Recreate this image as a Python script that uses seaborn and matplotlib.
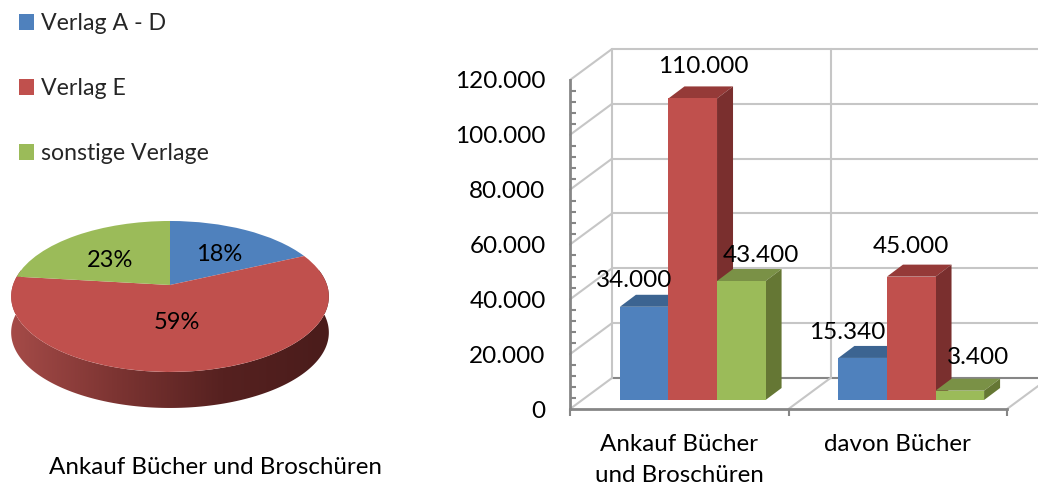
import numpy as np
import pandas as pd
import seaborn as sns
import matplotlib.pyplot as plt
from matplotlib.colors import LinearSegmentedColormap
from matplotlib.patches import Patch, Polygon
from matplotlib.path import Path

W, H = 1038, 487

categories = ["Ankauf Bücher\nund Broschüren", "davon Bücher"]
publishers = ["Verlag A - D", "Verlag E", "sonstige Verlage"]
verlag_a = [34000, 15340]
verlag_e = [110000, 45000]
sonstige = [43400, 3400]
value_labels = [["34.000", "15.340"], ["110.000", "45.000"], ["43.400", "3.400"]]
y_ticks = [0, 20000, 40000, 60000, 80000, 100000, 120000]
y_tick_labels = ["0", "20.000", "40.000", "60.000", "80.000", "100.000", "120.000"]
pie_title = "Ankauf Bücher und Broschüren"

colors = ["#4F81BD", "#C0504D", "#9BBB59"]
top_colors = ["#3C6491", "#953A38", "#7A9146"]
side_colors = ["#3A5F8A", "#7A2F2E", "#657734"]

sns.set_theme(style="white")
plt.rcParams["font.family"] = ["Lato", "DejaVu Sans"]

fig = plt.figure(figsize=(W / 100, H / 100), dpi=100)

# frame of the fake 3d chart
x0, x1, y_top, y_bot = 570, 1007, 80, 409
frame = fig.add_axes([x0 / W, (H - y_bot) / H, (x1 - x0) / W, (y_bot - y_top) / H], zorder=1)
frame.patch.set_alpha(0)
frame.set_xlim(0, 2)
frame.set_ylim(0, 120000)
px_x = 2 / (x1 - x0)
px_y = 120000 / (y_bot - y_top)
back_x, back_y = 42 * px_x, 31 * px_y

for v in y_ticks:
    col = "#868686" if v == 0 else "#C6C6C6"
    frame.plot([back_x, 2 + back_x], [v + back_y] * 2, color=col, lw=1.5, clip_on=False, zorder=1)
    if v > 0:
        frame.plot([0, back_x], [v, v + back_y], color="#C6C6C6", lw=1.5, clip_on=False, zorder=1)
for c in [0, 1, 2]:
    frame.plot([c, c + back_x], [0, back_y], color="#C6C6C6", lw=1.5, clip_on=False, zorder=1)
    frame.plot([c + back_x] * 2, [back_y, 120000 + back_y], color="#C6C6C6", lw=1.5, clip_on=False, zorder=1)

sns.despine(ax=frame)
for s in ["left", "bottom"]:
    frame.spines[s].set_color("#868686")
    frame.spines[s].set_linewidth(2)
frame.set_yticks(y_ticks, y_tick_labels, fontsize=17.5)
frame.set_yticks(np.arange(0, 120001, 4000), minor=True)
frame.set_xticks([0, 1, 2], ["", "", ""])
frame.set_xticks([0.5, 1.5], categories, minor=True, fontsize=17.4, linespacing=1.56)
frame.tick_params(axis="y", which="major", direction="inout", length=9.5, width=1.5, color="#868686", pad=12.8, labelcolor="black")
frame.tick_params(axis="y", which="minor", direction="in", length=4, width=1.5, color="#868686", left=True)
frame.tick_params(axis="x", which="major", direction="out", length=5, width=1.5, color="#868686", bottom=True)
frame.tick_params(axis="x", which="minor", length=0, pad=18, labelcolor="black")

# bars stand a little behind the front of the frame
shift_x, shift_y = 13.5, 9
bars = fig.add_axes([(x0 + shift_x) / W, (H - y_bot + shift_y) / H, (x1 - x0) / W, (y_bot - y_top) / H], zorder=2)
bars.patch.set_alpha(0)

df = pd.DataFrame({
    "kategorie": categories * 3,
    "verlag": [p for p in publishers for _ in categories],
    "wert": verlag_a + verlag_e + sonstige,
})
sns.barplot(data=df, x="kategorie", y="wert", hue="verlag", order=categories, hue_order=publishers,
            palette=colors, saturation=1, width=2 / 3, gap=0, legend=False, ax=bars)
bars.set_xlim(-0.5, 1.5)
bars.set_ylim(0, 120000)
bars.set_axis_off()

depth_x, depth_y = 16 * px_x, 12 * px_y
label_offsets = [[(-10, 26), (-15, 25)], [(11, 32), (0, 30)], [(20, 26), (18.5, 33)]]
for h, cont in enumerate(bars.containers):
    for c, bar in enumerate(cont):
        xl, w, t = bar.get_x(), bar.get_width(), bar.get_height()
        z = 3 + h
        bar.set_zorder(z + 0.2)
        bar.set_linewidth(0)
        bars.add_patch(Polygon([(xl, t), (xl + depth_x, t + depth_y), (xl + w + depth_x, t + depth_y), (xl + w, t)],
                               facecolor=top_colors[h], lw=0, zorder=z, clip_on=False))
        bars.add_patch(Polygon([(xl + w, 0), (xl + w + depth_x, depth_y), (xl + w + depth_x, t + depth_y), (xl + w, t)],
                               facecolor=side_colors[h], lw=0, zorder=z, clip_on=False))
        off = label_offsets[h][c]
        bars.annotate(value_labels[h][c], (xl + w / 2, t), xytext=(off[0] * 0.72, off[1] * 0.72),
                      textcoords="offset points", ha="center", va="center", fontsize=17.5, color="black",
                      zorder=20, annotation_clip=False)

# pie in pixel units around its centre point
cx, cy = 170, 285
pie_ax = fig.add_axes([0, 0, 1, 1], zorder=3)
pie_ax.patch.set_alpha(0)
k, a, b = 0.152, 73.75, 157


def warp(uv):
    # tilted disc: the far half looks smaller than the near half
    uv = np.asarray(uv, dtype=float)
    d = 1 + k * uv[:, 1]
    return np.column_stack([b * uv[:, 0] / d, a * uv[:, 1] / d])


totals = [verlag_a[0], verlag_e[0], sonstige[0]]
wedges, _, pct_texts = pie_ax.pie(totals, colors=colors, startangle=90, counterclock=False,
                                  autopct="%.0f%%", pctdistance=0.6,
                                  wedgeprops={"linewidth": 0},
                                  textprops={"fontsize": 17, "color": "black"})
for w in wedges:
    p = w.get_path()
    w._path = Path(warp(p.vertices), p.codes)
pct_nudges = [(2, -4), (-9, 11), (-1, -6)]
for t, nudge in zip(pct_texts, pct_nudges):
    pos = warp([t.get_position()])[0]
    t.set_position((pos[0] + nudge[0], pos[1] + nudge[1]))
    t.set_ha("center")
    t.set_va("center")

pie_ax.set_aspect("auto")

# side of the disc with a left to right gradient
depth = 36
theta = np.radians(np.linspace(168, 372, 200))
rim = warp(np.column_stack([np.cos(theta), np.sin(theta)]))
outline = np.vstack([rim, (rim - [0, depth])[::-1]])
cmap = LinearSegmentedColormap.from_list("rand", ["#A54B48", "#7C3432", "#562120", "#4A1C1B"])
grad = pie_ax.imshow(np.linspace(0, 1, 256)[None, :], cmap=cmap, aspect="auto",
                     extent=[-160, 160, -140, 40], zorder=0)
clip = Polygon(outline, transform=pie_ax.transData, facecolor="none", lw=0)
pie_ax.add_patch(clip)
grad.set_clip_path(clip)
pie_ax.set_xlim(-cx, W - cx)
pie_ax.set_ylim(cy - H, cy)
pie_ax.text(215 - cx, cy - 467, pie_title, ha="center", va="center", fontsize=17.4, color="black")
pie_ax.set_axis_off()

handles = [Patch(facecolor=c, lw=0) for c in colors]
fig.legend(handles, publishers, loc="upper left", bbox_to_anchor=(19 / W, 1 - 13 / H), frameon=False,
           fontsize=16.7, handlelength=0.65, handleheight=0.65, handletextpad=0.3, labelspacing=1.9,
           borderpad=0, borderaxespad=0)

fig.savefig("out.png", dpi=100)
